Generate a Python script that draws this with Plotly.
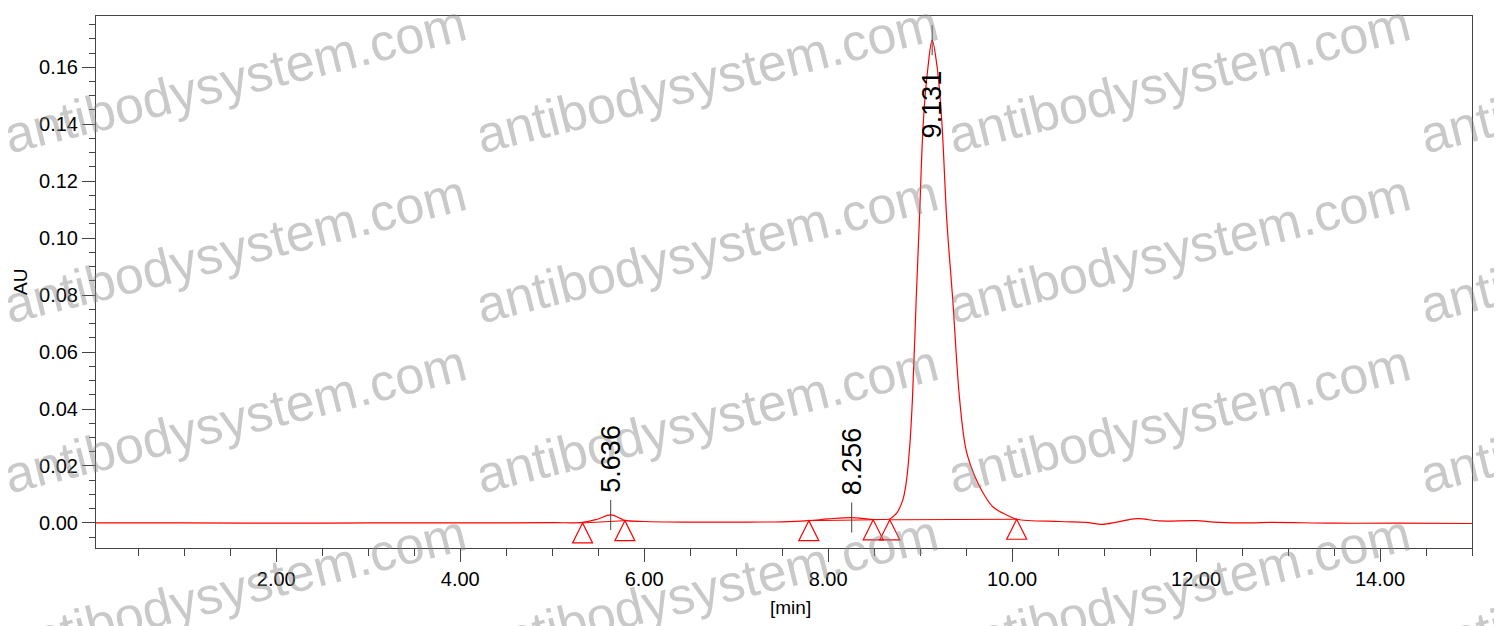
import plotly.graph_objects as go

# chromatogram: retention time [min] vs absorbance [AU]
time_min = [0.04, 1.00, 2.00, 3.00, 4.00, 5.00, 5.33, 5.49, 5.636, 5.74, 5.79,
            6.00, 6.50, 7.00, 7.50, 7.79, 8.00, 8.256, 8.40, 8.49, 8.58, 8.67,
            8.69, 8.747, 8.812, 8.848, 8.884, 8.916, 8.957, 8.992, 9.036, 9.085,
            9.131, 9.185, 9.235, 9.29, 9.355, 9.43, 9.50, 9.598, 9.685, 9.793,
            9.94, 10.05, 10.52, 10.80, 10.98, 11.15, 11.36, 11.60, 12.00, 12.20,
            12.60, 12.80, 13.50, 14.20, 15.00]
absorb = [0.0000, 0.0000, -0.0001, 0.0000, 0.0000, 0.0001, 0.0002, 0.0013, 0.0028, 0.0016, 0.0009,
          0.0005, 0.0003, 0.0003, 0.0004, 0.0008, 0.0014, 0.0019, 0.0015, 0.0012, 0.0012, 0.0014,
          0.0018, 0.0035, 0.0081, 0.0140, 0.0256, 0.0432, 0.0782, 0.1063, 0.1414, 0.1600,
          0.1695, 0.1600, 0.1414, 0.1063, 0.0782, 0.0432, 0.0256, 0.0161, 0.0105, 0.0056,
          0.0028, 0.0013, 0.0005, 0.0002, -0.0005, 0.0004, 0.0015, 0.0007, 0.0008, 0.0003,
          0.0000, 0.0002, -0.0001, -0.0001, -0.0002]

# labelled peaks
peak_times = [5.636, 8.256, 9.131]
peak_heights = [0.0028, 0.0019, 0.1695]
peak_labels = ["5.636", "8.256", "9.131"]

# integration events (triangles) and the baselines drawn between them
event_times = [5.33, 5.79, 7.79, 8.49, 8.67, 10.05]
event_levels = [0.0000, 0.0008, 0.0008, 0.0011, 0.0011, 0.0013]
baseline_pairs = [(0, 1), (2, 3), (4, 5)]

x_ticks = [2, 4, 6, 8, 10, 12, 14]
y_ticks = [0.00, 0.02, 0.04, 0.06, 0.08, 0.10, 0.12, 0.14, 0.16]

# page body has an 8px margin, so the figure is made 8px smaller
OFF = 8
W, H = 1502 - OFF, 626 - OFF
PL, PT, PW, PH = 96, 16, 1376, 532   # plot area in page pixels
ML, MT = PL - OFF, PT - OFF
MR, MB = W - ML - PW, H - MT - PH
FONT = "Arial, Liberation Sans, sans-serif"
RED = "#ff0000"
AXC = "#444444"

fig = go.Figure()

fig.add_trace(go.Scatter(x=time_min, y=absorb, mode="lines",
                         line=dict(color=RED, width=1.2, shape="spline", smoothing=1.0),
                         hoverinfo="skip"))

bx, by = [], []
for a, b in baseline_pairs:
    bx += [event_times[a], event_times[b], None]
    by += [event_levels[a], event_levels[b], None]
fig.add_trace(go.Scatter(x=bx, y=by, mode="lines", line=dict(color=RED, width=1),
                         hoverinfo="skip"))

shapes = []
for t, lv in zip(event_times, event_levels):
    shapes.append(dict(type="path", xref="x", yref="y", xsizemode="pixel", ysizemode="pixel",
                       xanchor=t, yanchor=lv, path="M0,0 L-10,-20 L10,-20 Z",
                       line=dict(color=RED, width=1.2)))

annotations = []


def px2paper(px, py):
    return (px - PL) / PW, (PT + PH - py) / PH


# watermark grid (page pixel position where each text starts)
for i in range(4):
    for j in range(4):
        sx, sy = 5 + 472 * i, 157 + 170 * j
        cx, cy = px2paper(sx + 230, sy - 78)
        annotations.append(dict(x=cx, y=cy, xref="paper", yref="paper", showarrow=False,
                                xanchor="center", yanchor="middle",
                                text="antibodysystem.com", textangle=-14,
                                font=dict(family=FONT, size=52, color="rgba(135,135,135,0.45)")))

for t, h, lab in zip(peak_times, peak_heights, peak_labels):
    above = h < 0.1
    shapes.append(dict(type="line", xref="x", yref="y", x0=t, x1=t, ysizemode="pixel",
                       yanchor=h, y0=-15, y1=15, line=dict(color=AXC, width=1)))
    annotations.append(dict(x=t, y=h, xref="x", yref="y", showarrow=False, text=lab,
                            xanchor="center", yanchor="middle",
                            textangle=-90, yshift=56 if above else -64,
                            font=dict(family=FONT, size=27, color="black")))

ax, ay = px2paper(20, 282)
annotations.append(dict(x=ax, y=ay, xref="paper", yref="paper", showarrow=False, text="AU",
                        xanchor="center", yanchor="middle",
                        textangle=-90, font=dict(family=FONT, size=19, color="black")))
tx, ty = px2paper(790, 607)
annotations.append(dict(x=tx, y=ty, xref="paper", yref="paper", showarrow=False, text="[min]",
                        xanchor="center", yanchor="middle",
                        font=dict(family=FONT, size=19, color="black")))

fig.update_layout(
    width=W, height=H, autosize=False,
    margin=dict(l=ML, r=MR, t=MT, b=MB, pad=0),
    paper_bgcolor="white", plot_bgcolor="white",
    showlegend=False,
    font=dict(family=FONT, size=20, color="black"),
    shapes=shapes, annotations=annotations,
)
fig.update_xaxes(range=[0.04, 15.0], tickvals=x_ticks, ticktext=["%.2f" % v for v in x_ticks],
                 ticks="outside", ticklen=13, tickwidth=1, tickcolor=AXC,
                 minor=dict(dtick=0.5, tick0=0, ticks="outside", ticklen=7, tickcolor=AXC),
                 showline=True, linecolor=AXC, linewidth=1, mirror=True,
                 showgrid=False, zeroline=False)
fig.update_yaxes(range=[-0.0088, 0.178], tickvals=y_ticks, ticktext=["%.2f" % v for v in y_ticks],
                 ticks="outside", ticklen=13, tickwidth=1, tickcolor=AXC,
                 minor=dict(dtick=0.005, tick0=0, ticks="outside", ticklen=6, tickcolor=AXC),
                 showline=True, linecolor=AXC, linewidth=1, mirror=True,
                 showgrid=False, zeroline=False)

fig.write_html("out.html")
